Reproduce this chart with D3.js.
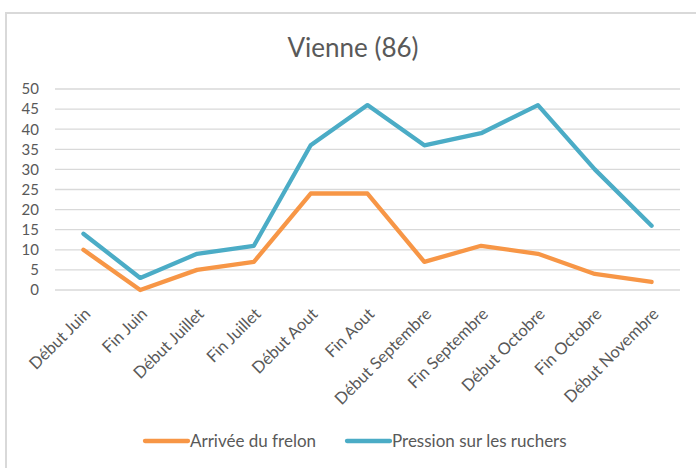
<!DOCTYPE html>
<html>
<head>
<meta charset="utf-8">
<script src="https://cdn.jsdelivr.net/npm/d3@7"></script>
<style>
body { margin: 0; background: #fff; }
text { font-family: Lato, "Open Sans", sans-serif; fill: #595959; }
</style>
</head>
<body>
<div id="chart"></div>
<script>
var periods = ["Début Juin", "Fin Juin", "Début Juillet", "Fin Juillet", "Début Aout", "Fin Aout",
    "Début Septembre", "Fin Septembre", "Début Octobre", "Fin Octobre", "Début Novembre"];
var arrivee = [10, 0, 5, 7, 24, 24, 7, 11, 9, 4, 2];
var pression = [14, 3, 9, 11, 36, 46, 36, 39, 46, 30, 16];
var yTicks = [0, 5, 10, 15, 20, 25, 30, 35, 40, 45, 50];
var seriesNames = ["Arrivée du frelon", "Pression sur les ruchers"];
var colors = ["#f79646", "#4bacc6"];

var w = 696;
var h = 468;

var svg = d3.select("#chart").append("svg").attr("width", w).attr("height", h);

// chart area border (cut off at right and bottom like the screenshot)
svg.append("rect")
    .attr("x", 6).attr("y", 13)
    .attr("width", 900).attr("height", 900)
    .attr("fill", "none")
    .attr("stroke", "#d9d9d9")
    .attr("stroke-width", 2);

svg.append("text")
    .attr("x", 353).attr("y", 57)
    .attr("text-anchor", "middle")
    .attr("font-size", "26px")
    .text("Vienne (86)");

var xScale = d3.scaleBand().domain(periods).range([55, 680]);
var yScale = d3.scaleLinear().domain([0, 50]).range([290, 89]);

// gridlines
svg.append("g").selectAll("line")
    .data(yTicks)
    .enter()
    .append("line")
    .attr("x1", 55).attr("x2", 680)
    .attr("y1", function (d) { return yScale(d); })
    .attr("y2", function (d) { return yScale(d); })
    .attr("stroke", "#d9d9d9")
    .attr("stroke-width", 1.3);

var yAxis = d3.axisLeft(yScale).tickValues(yTicks).tickSize(0).tickPadding(0);
var gy = svg.append("g").attr("transform", "translate(39, 0)").call(yAxis);
gy.select(".domain").remove();
gy.selectAll("text").attr("font-size", "15px").attr("fill", "#595959")
    .attr("font-family", "Lato, 'Open Sans', sans-serif");

var xAxis = d3.axisBottom(xScale).tickSize(0).tickPadding(0);
var gx = svg.append("g").attr("transform", "translate(0, 290)").call(xAxis);
gx.select(".domain").remove();
gx.selectAll("text")
    .attr("font-size", "16.5px")
    .attr("fill", "#595959")
    .attr("font-family", "Lato, 'Open Sans', sans-serif")
    .attr("text-anchor", "end")
    .attr("dy", "0")
    .attr("transform", "translate(8, 25) rotate(-45)");

var line = d3.line()
    .x(function (d, i) { return xScale(periods[i]) + xScale.bandwidth() / 2; })
    .y(function (d) { return yScale(d); });

[arrivee, pression].forEach(function (s, k) {
    svg.append("path")
        .datum(s)
        .attr("d", line)
        .attr("fill", "none")
        .attr("stroke", colors[k])
        .attr("stroke-width", 4.3)
        .attr("stroke-linejoin", "round")
        .attr("stroke-linecap", "round");
});

// legend
var legX = [145, 347];
var legend = svg.selectAll(".legend")
    .data(seriesNames)
    .enter()
    .append("g")
    .attr("transform", function (d, i) { return "translate(" + legX[i] + ", 441)"; });

legend.append("line")
    .attr("x1", 0).attr("x2", 43)
    .attr("stroke", function (d, i) { return colors[i]; })
    .attr("stroke-width", 4.3)
    .attr("stroke-linecap", "round");

legend.append("text")
    .attr("x", 45).attr("y", 6)
    .attr("font-size", "17px")
    .text(function (d) { return d; });
</script>
</body>
</html>
